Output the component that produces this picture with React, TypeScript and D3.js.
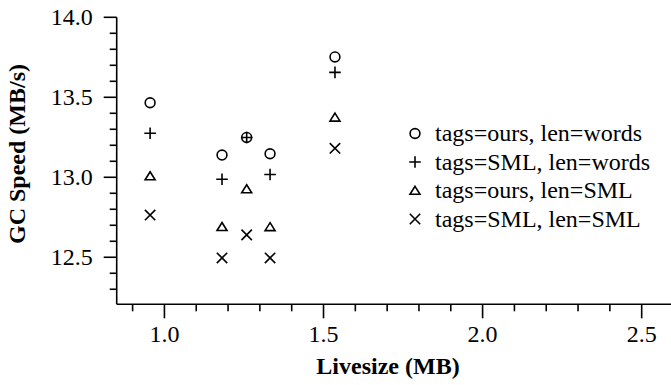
import React from "react";
import * as d3 from "d3";

const livesize = [0.955, 1.181, 1.2585, 1.332, 1.536];
const seriesNames = [
  "tags=ours, len=words",
  "tags=SML, len=words",
  "tags=ours, len=SML",
  "tags=SML, len=SML",
];
const oursWords = [13.466, 13.139, 13.249, 13.147, 13.752];
const smlWords = [13.275, 12.9875, 13.249, 13.017, 13.656];
const oursSml = [13.008, 12.691, 12.927, 12.69, 13.375];
const smlSml = [12.764, 12.496, 12.64, 12.496, 13.181];
const markerKinds = ["circle", "plus", "triangle", "cross"];
const xMajorTicks = [1.0, 1.5, 2.0, 2.5];
const yMajorTicks = [12.5, 13.0, 13.5, 14.0];

const W = 671;
const H = 385;
const FONT = "Liberation Serif, serif";

function Marker({ kind, cx, cy }: { kind: string; cx: number; cy: number }) {
  const sw = 1.6;
  if (kind === "circle") {
    return <circle cx={cx} cy={cy} r={4.9} fill="none" stroke="#000" strokeWidth={sw} />;
  }
  if (kind === "plus") {
    const h = 5.8;
    return (
      <path
        d={`M${cx - h},${cy}H${cx + h}M${cx},${cy - h}V${cy + h}`}
        stroke="#000"
        strokeWidth={sw}
        fill="none"
      />
    );
  }
  if (kind === "triangle") {
    const hw = 5;
    return (
      <path
        d={`M${cx},${cy - 4.2}L${cx + hw},${cy + 3.8}L${cx - hw},${cy + 3.8}Z`}
        stroke="#000"
        strokeWidth={sw}
        fill="none"
      />
    );
  }
  const h = 5.2;
  return (
    <path
      d={`M${cx - h},${cy - h}L${cx + h},${cy + h}M${cx - h},${cy + h}L${cx + h},${cy - h}`}
      stroke="#000"
      strokeWidth={sw}
      fill="none"
    />
  );
}

export default function App() {
  const x = d3.scaleLinear().domain([0.85, 2.6]).range([116.7, 673.5]);
  const y = d3.scaleLinear().domain([12.206, 14.0]).range([304.3, 17.3]);
  const series = [oursWords, smlWords, oursSml, smlSml];

  const xMinor = d3.range(9, 27).map((v) => v / 10).filter((v) => !xMajorTicks.some((m) => Math.abs(m - v) < 1e-6));
  const yMinor = d3.range(123, 140).map((v) => v / 10).filter((v) => v > 12.206 && !yMajorTicks.some((m) => Math.abs(m - v) < 1e-6));

  const x0 = x.range()[0];
  const y0 = y.range()[0];

  return (
    <svg
      width={W}
      height={H}
      style={{ position: "absolute", left: 0, top: 0, background: "#fff" }}
      fontFamily={FONT}
    >
      <rect x={0} y={0} width={W} height={H} fill="#fff" />
      <line x1={x0} y1={y.range()[1]} x2={x0} y2={y0} stroke="#000" strokeWidth={1.6} />
      <line x1={x0} y1={y0} x2={W} y2={y0} stroke="#000" strokeWidth={1.6} />
      {yMajorTicks.map((t) => (
        <g key={"ym" + t}>
          <line x1={x0 - 13} x2={x0} y1={y(t)} y2={y(t)} stroke="#000" strokeWidth={1.6} />
          <text x={x0 - 24} y={y(t) + 8} textAnchor="end" fontSize={24}>
            {d3.format(".1f")(t)}
          </text>
        </g>
      ))}
      {yMinor.map((t) => (
        <line key={"yn" + t} x1={x0 - 7} x2={x0} y1={y(t)} y2={y(t)} stroke="#000" strokeWidth={1.6} />
      ))}
      {xMajorTicks.map((t) => (
        <g key={"xm" + t}>
          <line x1={x(t)} x2={x(t)} y1={y0} y2={y0 + 14} stroke="#000" strokeWidth={1.6} />
          <text x={x(t)} y={y0 + 37.4} textAnchor="middle" fontSize={24}>
            {d3.format(".1f")(t)}
          </text>
        </g>
      ))}
      {xMinor.map((t) => (
        <line key={"xn" + t} x1={x(t)} x2={x(t)} y1={y0} y2={y0 + 7} stroke="#000" strokeWidth={1.6} />
      ))}
      <text x={388} y={374} textAnchor="middle" fontSize={24} fontWeight="bold">
        Livesize (MB)
      </text>
      <text transform="translate(25,154) rotate(-90)" textAnchor="middle" fontSize={24} fontWeight="bold">
        GC Speed (MB/s)
      </text>
      {series.map((vals, si) =>
        vals.map((v, i) => (
          <Marker key={si + "-" + i} kind={markerKinds[si]} cx={x(livesize[i])} cy={y(v)} />
        ))
      )}
      {seriesNames.map((name, i) => {
        const cy = 133.5 + i * 28.5;
        return (
          <g key={name}>
            <Marker kind={markerKinds[i]} cx={415} cy={cy} />
            <text x={435} y={cy + 7.5} fontSize={24}>
              {name}
            </text>
          </g>
        );
      })}
    </svg>
  );
}
